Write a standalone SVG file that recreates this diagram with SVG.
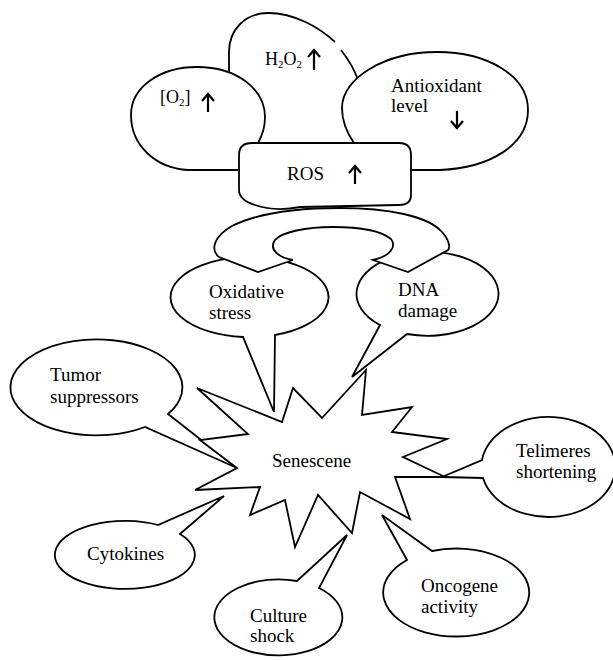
<svg xmlns="http://www.w3.org/2000/svg" width="613" height="660" viewBox="0 0 613 660">
<style>
.s{fill:#fff;stroke:#000;stroke-width:1.8;stroke-linejoin:miter}
.o{fill:none;stroke:#000;stroke-width:1.8}
.a{fill:none;stroke:#000;stroke-width:2.2;stroke-linecap:butt}
.t{font-family:"Liberation Serif","Times New Roman",serif;font-size:19px;fill:#000}
.m{font-family:"Liberation Serif","Times New Roman",serif;font-size:18px;fill:#000}
.sub{font-size:11px}
</style>
<rect width="613" height="660" fill="#fff"/>
<g id="h2o2">
<path class="o" d="M 229,74 L 229,52 C 229,30 245,13 268,13 C 295,13 320,28 335,42"/>
<path class="o" d="M 341,50 C 348,59 354,68 358,80"/>
<text class="m" x="265" y="65">H<tspan class="sub" dy="3">2</tspan><tspan dy="-3">O</tspan><tspan class="sub" dy="3">2</tspan></text>
<path class="a" d="M 314,70 L 314,50 M 308,57 L 314,50 L 320,57"/>
</g>
<g id="o2">
<path class="s" d="M 248,170 L 188,170 C 155,168 131,145 131,115 C 131,87 160,67 197,67 C 238,67 265,90 265,117 C 265,128 262,136 258,143 L 252,170 Z"/>
<text class="m" x="160" y="103">[O<tspan class="sub" dy="3">2</tspan><tspan dy="-3">]</tspan></text>
<path class="a" d="M 208,112 L 208,94 M 202,101 L 208,94 L 214,101"/>
</g>
<g id="antioxidant">
<path class="s" d="M 400,170 L 440,170 C 490,168 528,145 528,110 C 528,76 488,52 437,52 C 385,52 342,78 342,108 C 342,122 347,133 354,143 L 362,170 Z"/>
<text class="t" x="391" y="92">Antioxidant</text>
<text class="t" x="391" y="112">level</text>
<path class="a" d="M 457,111 L 457,128 M 451,121 L 457,128 L 463,121"/>
</g>
<g id="oxidative-stress">
<path class="s" d="M 275,335 A 79 40 0 1 0 243,337 L 274,412 Z"/>
<text class="t" x="209" y="298">Oxidative</text>
<text class="t" x="209" y="319">stress</text>
</g>
<g id="dna-damage">
<path class="s" d="M 407,334 A 71 42 0 1 0 380,325 L 352,377 Z"/>
<text class="t" x="398" y="296">DNA</text>
<text class="t" x="398" y="317">damage</text>
</g>
<g id="horseshoe">
<path class="s" d="M 293,260 L 258,272 L 219,257 C 210,250 214,236 232,226 C 258,213 298,208 340,208 C 388,208 428,216 442,232 C 450,241 450,248 448,250 L 408,272 L 373,260 C 390,256 397,247 391,239 C 380,230 358,227 333,227 C 306,227 282,232 275,240 C 268,250 280,258 293,260 Z"/>
</g>
<g id="ros">
<path class="s" d="M 252,143 L 399,143 Q 411,143 411,155 L 411,195 Q 411,205 399,205 L 300,207 Q 275,212 255,205 Q 239,200 239,190 L 239,155 Q 239,143 252,143 Z"/>
<text class="t" x="287" y="180">ROS</text>
<path class="a" d="M 355,184 L 355,166 M 349,173 L 355,166 L 361,173"/>
</g>
<g id="tumor-suppressors">
<path class="s" d="M 168,414 A 86 48 0 1 0 145,427 L 237,468 Z"/>
<text class="t" x="50" y="381">Tumor</text>
<text class="t" x="50" y="403">suppressors</text>
</g>
<g id="cytokines">
<path class="s" d="M 158,525 A 70 34 0 1 0 180,534 L 224,496 Z"/>
<text class="t" x="87" y="560">Cytokines</text>
</g>
<g id="culture-shock">
<path class="s" d="M 297,581 A 64 38 0 1 0 319,588 L 347,535 Z"/>
<text class="t" x="250" y="622">Culture</text>
<text class="t" x="250" y="642">shock</text>
</g>
<g id="oncogene-activity">
<path class="s" d="M 407,560 A 73 44 0 1 0 432,551 L 382,515 Z"/>
<text class="t" x="421" y="592">Oncogene</text>
<text class="t" x="421" y="613">activity</text>
</g>
<g id="telimeres-shortening">
<path class="s" d="M 482,460 A 67 50 0 1 1 483,478 L 442,477 Z"/>
<text class="t" x="516" y="457">Telimeres</text>
<text class="t" x="516" y="478">shortening</text>
</g>
<g id="senescene">
<polygon class="s" points="197,388 282,422 293,388 322,418 366,370 362,415 412,407 392,432 447,439 403,457 445,477 395,477 410,519 360,492 352,533 318,495 295,547 285,500 250,515 260,487 195,490 237,468 200,440 248,434"/>
<text class="t" x="272" y="467">Senescene</text>
</g>
<g id="connectors"></g>
</svg>
